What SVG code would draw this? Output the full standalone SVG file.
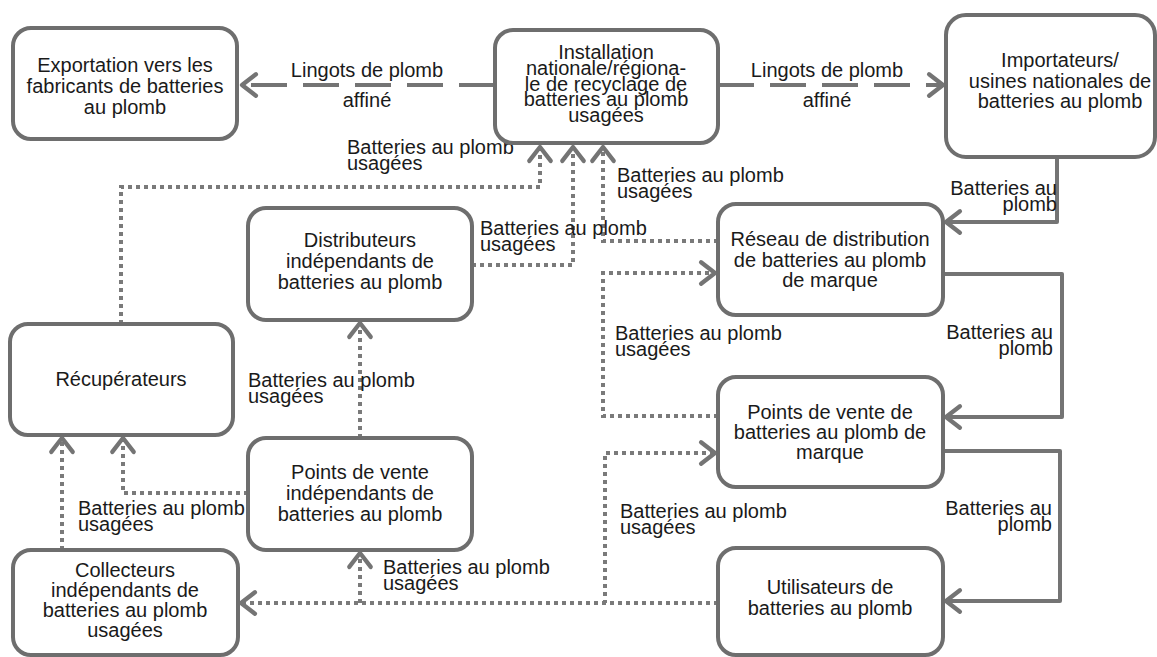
<svg xmlns="http://www.w3.org/2000/svg" width="1157" height="657" viewBox="0 0 1157 657">
<defs>
<marker id="arr" markerUnits="userSpaceOnUse" markerWidth="30" markerHeight="30" viewBox="-16 -14 20 28" refX="0" refY="0" orient="auto">
<path d="M-13,-10 L0,0 L-13,10" fill="none" stroke="#747474" stroke-width="4" stroke-linejoin="round" stroke-linecap="round" stroke-dasharray="none"/>
</marker>
<style>
.box{fill:#fff;stroke:#6e6e6e;stroke-width:4}
.t{font-family:"Liberation Sans",Arial,sans-serif;font-size:20px;fill:#1a1a1a;text-anchor:middle}
.l{font-family:"Liberation Sans",Arial,sans-serif;font-size:20px;fill:#1a1a1a}
.r{text-anchor:end}
.c{text-anchor:middle}
.solid{fill:none;stroke:#747474;stroke-width:4;stroke-linejoin:round}
.dash{fill:none;stroke:#747474;stroke-width:4;stroke-dasharray:36 16}
.dot{fill:none;stroke:#7a7a7a;stroke-width:4;stroke-dasharray:4 4}
</style>
</defs>
<rect width="1157" height="657" fill="#fff"/>
<g id="connectors">
<path class="dash" d="M495,85 H242" marker-end="url(#arr)"/>
<path class="dash" d="M718,85 H943" marker-end="url(#arr)"/>
<path class="dot" d="M121,324 V187 H540 V147" marker-end="url(#arr)"/>
<path class="dot" d="M472,265 H573 V147" marker-end="url(#arr)"/>
<path class="dot" d="M718,241 H603 V147" marker-end="url(#arr)"/>
<path class="dot" d="M718,416 H603 V273 H715" marker-end="url(#arr)"/>
<path class="dot" d="M718,603 H605 V453 H715" marker-end="url(#arr)"/>
<path class="dot" d="M718,603 H241" marker-end="url(#arr)"/>
<path class="dot" d="M360,603 V553" marker-end="url(#arr)"/>
<path class="dot" d="M360,438 V323" marker-end="url(#arr)"/>
<path class="dot" d="M248,493 H123 V438" marker-end="url(#arr)"/>
<path class="dot" d="M62,550 V438" marker-end="url(#arr)"/>
<path class="solid" d="M1057,157 V222 H946" marker-end="url(#arr)"/>
<path class="solid" d="M943,274 H1062 V417 H946" marker-end="url(#arr)"/>
<path class="solid" d="M943,451 H1060 V601 H946" marker-end="url(#arr)"/>
<text class="l c" x="367" y="77">Lingots de plomb</text>
<text class="l c" x="367" y="107">affiné</text>
<text class="l c" x="827" y="77">Lingots de plomb</text>
<text class="l c" x="827" y="107">affiné</text>
<text class="l" x="347" y="154">Batteries au plomb</text>
<text class="l" x="347" y="170">usagées</text>
<text class="l" x="480" y="235">Batteries au plomb</text>
<text class="l" x="480" y="251">usagées</text>
<text class="l" x="617" y="182">Batteries au plomb</text>
<text class="l" x="617" y="198">usagées</text>
<text class="l" x="615" y="340">Batteries au plomb</text>
<text class="l" x="615" y="356">usagées</text>
<text class="l" x="620" y="518">Batteries au plomb</text>
<text class="l" x="620" y="534">usagées</text>
<text class="l" x="383" y="574">Batteries au plomb</text>
<text class="l" x="383" y="590">usagées</text>
<text class="l" x="248" y="387">Batteries au plomb</text>
<text class="l" x="248" y="403">usagées</text>
<text class="l" x="78" y="515">Batteries au plomb</text>
<text class="l" x="78" y="531">usagées</text>
<text class="l r" x="1057" y="195">Batteries au</text>
<text class="l r" x="1057" y="211">plomb</text>
<text class="l r" x="1053" y="339">Batteries au</text>
<text class="l r" x="1053" y="355">plomb</text>
<text class="l r" x="1052" y="515">Batteries au</text>
<text class="l r" x="1052" y="531">plomb</text>
</g>
<g id="n_export">
<rect class="box" x="13" y="28" width="224" height="111" rx="18"/>
<text class="t" x="125" y="72">Exportation vers les</text>
<text class="t" x="125" y="93">fabricants de batteries</text>
<text class="t" x="125" y="114">au plomb</text>
</g>
<g id="n_install">
<rect class="box" x="495" y="30" width="223" height="113" rx="18"/>
<text class="t" x="606" y="59">Installation</text>
<text class="t" x="606" y="75">nationale/régiona-</text>
<text class="t" x="606" y="91">le de recyclage de</text>
<text class="t" x="606" y="106">batteries au plomb</text>
<text class="t" x="606" y="122">usagées</text>
</g>
<g id="n_import">
<rect class="box" x="946" y="15" width="209" height="142" rx="20"/>
<text class="t" x="1060" y="67">Importateurs/</text>
<text class="t" x="1060" y="88">usines nationales de</text>
<text class="t" x="1060" y="108">batteries au plomb</text>
</g>
<g id="n_reseau">
<rect class="box" x="718" y="204" width="225" height="111" rx="18"/>
<text class="t" x="830" y="246">Réseau de distribution</text>
<text class="t" x="830" y="267">de batteries au plomb</text>
<text class="t" x="830" y="287">de marque</text>
</g>
<g id="n_pvm">
<rect class="box" x="718" y="377" width="225" height="110" rx="18"/>
<text class="t" x="830" y="419">Points de vente de</text>
<text class="t" x="830" y="439">batteries au plomb de</text>
<text class="t" x="830" y="459">marque</text>
</g>
<g id="n_util">
<rect class="box" x="718" y="548" width="225" height="107" rx="18"/>
<text class="t" x="830" y="594">Utilisateurs de</text>
<text class="t" x="830" y="615">batteries au plomb</text>
</g>
<g id="n_distrib">
<rect class="box" x="248" y="208" width="224" height="112" rx="18"/>
<text class="t" x="360" y="247">Distributeurs</text>
<text class="t" x="360" y="268">indépendants de</text>
<text class="t" x="360" y="289">batteries au plomb</text>
</g>
<g id="n_recup">
<rect class="box" x="10" y="324" width="223" height="111" rx="18"/>
<text class="t" x="121" y="386">Récupérateurs</text>
</g>
<g id="n_pvi">
<rect class="box" x="248" y="438" width="224" height="112" rx="18"/>
<text class="t" x="360" y="479">Points de vente</text>
<text class="t" x="360" y="500">indépendants de</text>
<text class="t" x="360" y="521">batteries au plomb</text>
</g>
<g id="n_collect">
<rect class="box" x="13" y="550" width="225" height="105" rx="18"/>
<text class="t" x="125" y="577">Collecteurs</text>
<text class="t" x="125" y="597">indépendants de</text>
<text class="t" x="125" y="617">batteries au plomb</text>
<text class="t" x="125" y="637">usagées</text>
</g>
</svg>
